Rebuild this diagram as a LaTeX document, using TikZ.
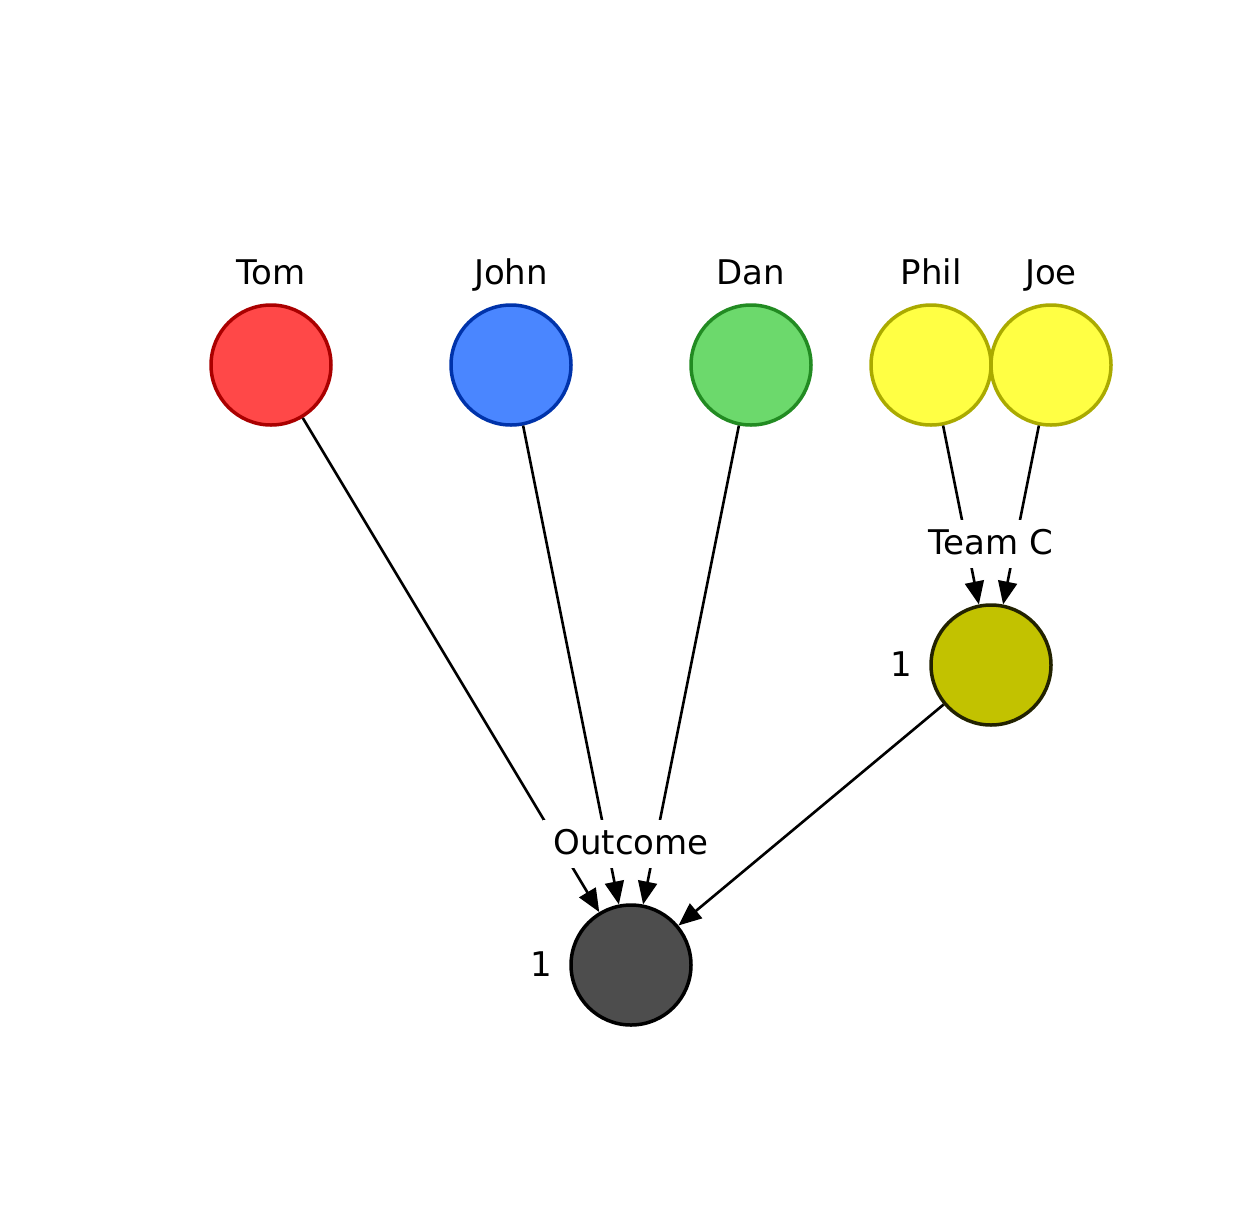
\documentclass[tikz,border=0pt]{standalone}
\usepackage{fontspec}
\setmainfont{DejaVu Sans}
\usetikzlibrary{arrows.meta}
\definecolor{tomfill}{RGB}{255,72,72}
\definecolor{tomline}{RGB}{170,0,0}
\definecolor{johnfill}{RGB}{74,134,255}
\definecolor{johnline}{RGB}{0,51,170}
\definecolor{danfill}{RGB}{108,217,108}
\definecolor{danline}{RGB}{34,139,34}
\definecolor{yelfill}{RGB}{255,255,68}
\definecolor{yelline}{RGB}{170,170,0}
\definecolor{teamfill}{RGB}{194,194,0}
\definecolor{teamline}{RGB}{34,34,0}
\definecolor{outfill}{RGB}{77,77,77}
\begin{document}
\begin{tikzpicture}[x=1pt,y=-1pt,
  every node/.style={font=\fontsize{34pt}{40pt}\selectfont},
  person/.style={circle,minimum size=120pt,inner sep=0pt,line width=3.5pt},
  nametext/.style={anchor=base},
  counttext/.style={anchor=base},
  edgelabel/.style={anchor=base,fill=white,inner xsep=10pt,inner ysep=0pt,text height=34pt,text depth=14pt},
  link/.style={line width=2.6pt,-{Triangle[length=23pt,width=19pt]}}]
\useasboundingbox (0,0) rectangle (1242,1229);
% people
\node[person,fill=tomfill,draw=tomline] (tom) at (271,365) {};
\node[person,fill=johnfill,draw=johnline] (john) at (511,365) {};
\node[person,fill=danfill,draw=danline] (dan) at (751,365) {};
\node[person,fill=yelfill,draw=yelline] (phil) at (931,365) {};
\node[person,fill=yelfill,draw=yelline] (joe) at (1051,365) {};
% aggregate nodes
\node[person,fill=teamfill,draw=teamline] (team) at (991,665) {};
\node[person,fill=outfill,draw=black] (out) at (631,965) {};
% names
\node[nametext] (tomname) at (271,284) {Tom};
\node[nametext] (johnname) at (511,284) {John};
\node[nametext] (danname) at (751,284) {Dan};
\node[nametext] (philname) at (931,284) {Phil};
\node[nametext] (joename) at (1051,284) {Joe};
\node[counttext] (teamcount) at (901,676) {1};
\node[counttext] (outcount) at (541,976) {1};
% connectors
\draw[link] (phil) -- (team);
\draw[link] (joe) -- (team);
\draw[link] (tom) -- (out);
\draw[link] (john) -- (out);
\draw[link] (dan) -- (out);
\draw[link] (team) -- (out);
% group labels over the connectors
\node[edgelabel] (teamlabel) at (991,554) {Team C};
\node[edgelabel] (outlabel) at (631,854) {Outcome};
\end{tikzpicture}
\end{document}
